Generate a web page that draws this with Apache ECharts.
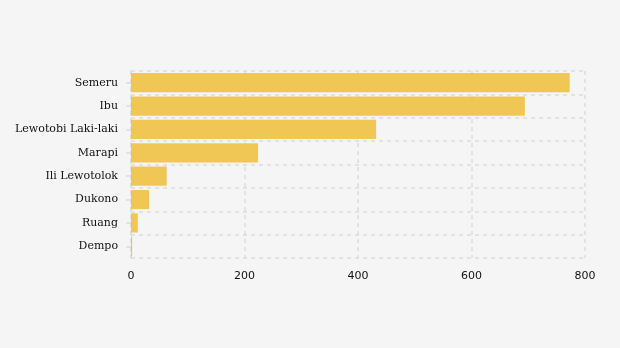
<!DOCTYPE html>
<html>
<head>
<meta charset="utf-8">
<script src="https://cdn.jsdelivr.net/npm/echarts@6/dist/echarts.min.js"></script>
<style>
  html, body { margin: 0; padding: 0; background: #f5f5f5; }
  #chart { width: 620px; height: 348px; }
</style>
</head>
<body>
<div id="chart"></div>
<script>
// Volcanoes, listed top to bottom
const volcanoes = ['Semeru', 'Ibu', 'Lewotobi Laki-laki', 'Marapi', 'Ili Lewotolok', 'Dukono', 'Ruang', 'Dempo'];
const counts = [773, 694, 432, 224, 63, 32, 12, 2];
const xTicks = [0, 200, 400, 600, 800];

const gridLine = { color: '#dcdcdc', type: [4, 4], width: 1.5 };

const chart = echarts.init(document.getElementById('chart'), null, { renderer: 'canvas' });
chart.setOption({
  backgroundColor: '#f5f5f5',
  animation: false,
  grid: { left: 131, right: 35, top: 71, bottom: 90, containLabel: false },
  xAxis: {
    type: 'value',
    min: xTicks[0],
    max: xTicks[xTicks.length - 1],
    interval: xTicks[1] - xTicks[0],
    axisLine: { show: false },
    axisTick: { show: false },
    axisLabel: { color: '#111', fontFamily: 'DejaVu Sans', fontSize: 11, margin: 13 },
    splitLine: { show: true, lineStyle: gridLine }
  },
  yAxis: {
    type: 'category',
    inverse: true,
    data: volcanoes,
    axisLine: { show: true, lineStyle: gridLine },
    axisTick: { show: true, alignWithLabel: true, length: 5, lineStyle: { color: '#dcdcdc', width: 1.5 } },
    axisLabel: { color: '#111', fontFamily: 'DejaVu Serif', fontSize: 11, margin: 13 },
    splitLine: { show: true, lineStyle: gridLine }
  },
  series: [{
    type: 'bar',
    data: counts,
    barCategoryGap: '18%',
    itemStyle: { color: 'rgba(239,194,68,0.9)' }
  }]
});
</script>
</body>
</html>
